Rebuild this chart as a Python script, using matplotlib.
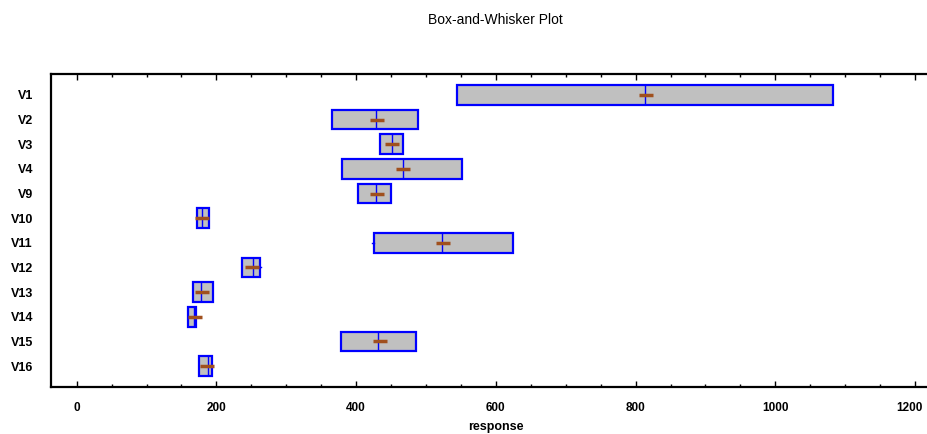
import matplotlib
matplotlib.use("Agg")
import matplotlib.pyplot as plt
import matplotlib.transforms as mtransforms

plt.rcParams['font.family'] = ['Liberation Sans', 'DejaVu Sans']

# values (response units)
labels = ["V1", "V2", "V3", "V4", "V9", "V10", "V11", "V12", "V13", "V14", "V15", "V16"]
q1 = [545, 366, 434, 380, 403, 172, 426, 237, 166, 160, 378, 175]
q3 = [1082, 489, 467, 552, 450, 189, 624, 262, 195, 171, 485, 193]
medians = [813, 429, 451, 467, 429, 180, 523, 253, 178, 168, 431, 188]
means = [815, 430, 452, 467, 430, 180, 525, 251, 180, 169, 434, 186]
whis_lo = [545, 366, 434, 380, 403, 172, 423, 237, 166, 160, 378, 175]
whis_hi = [1082, 489, 467, 552, 450, 189, 624, 264, 195, 171, 485, 193]
x_ticks = [0, 200, 400, 600, 800, 1000, 1200]
x_minor = list(range(0, 1201, 50))

stats = []
for i in range(len(labels)):
    stats.append({"label": labels[i], "q1": q1[i], "q3": q3[i], "med": medians[i],
                  "mean": means[i], "whislo": whis_lo[i], "whishi": whis_hi[i],
                  "fliers": []})

fig = plt.figure(figsize=(9.28, 4.34), dpi=100)
ax = fig.add_axes([51/928, 1 - 387/434, 1 - 51/928, (387 - 74)/434])

blue = "#0000ff"
ax.bxp(stats, positions=range(1, len(labels) + 1), widths=0.8,
       orientation="horizontal", patch_artist=True, showmeans=True,
       showcaps=False, showfliers=False,
       boxprops=dict(facecolor="#c0c0c0", edgecolor=blue, linewidth=1.6),
       medianprops=dict(color=blue, linewidth=1.0),
       whiskerprops=dict(color=blue, linewidth=1.0),
       meanprops=dict(marker="_", markeredgecolor="#a0501e", markersize=10,
                      markeredgewidth=2.5))

ax.set_xlim(-36.8, 1218.6)
ax.set_ylim(12.85, 0.15)
ax.set_yticks(range(1, len(labels) + 1))
ax.set_yticklabels(labels)

ax.set_xticks(x_ticks)
ax.set_xticklabels([str(v) for v in x_ticks])
ax.set_xticks(x_minor, minor=True)
ax.tick_params(axis="x", which="both", direction="in", top=True, bottom=True,
               width=1.0, labelsize=8.5, pad=11)
ax.tick_params(axis="x", which="major", length=4)
ax.tick_params(axis="x", which="minor", length=2)
ax.tick_params(axis="y", length=0, labelsize=9, pad=13)
for lab in ax.get_xticklabels() + ax.get_yticklabels():
    lab.set_fontweight("bold")

# last label sits at the very edge of the picture, nudge it left a little
last = ax.get_xticklabels()[-1]
last.set_transform(last.get_transform() +
                   mtransforms.ScaledTranslation(-4/72, 0, fig.dpi_scale_trans))

for side in ["top", "bottom", "left"]:
    ax.spines[side].set_linewidth(1.6)
ax.spines["right"].set_visible(False)

ax.set_xlabel("response", fontsize=9, fontweight="bold")
ax.xaxis.set_label_coords(0.507, -0.108)

fig.text(495/928, 1 - 20/434, "Box-and-Whisker Plot", ha="center", va="center",
         fontsize=10)

fig.savefig("out.png", dpi=100)
